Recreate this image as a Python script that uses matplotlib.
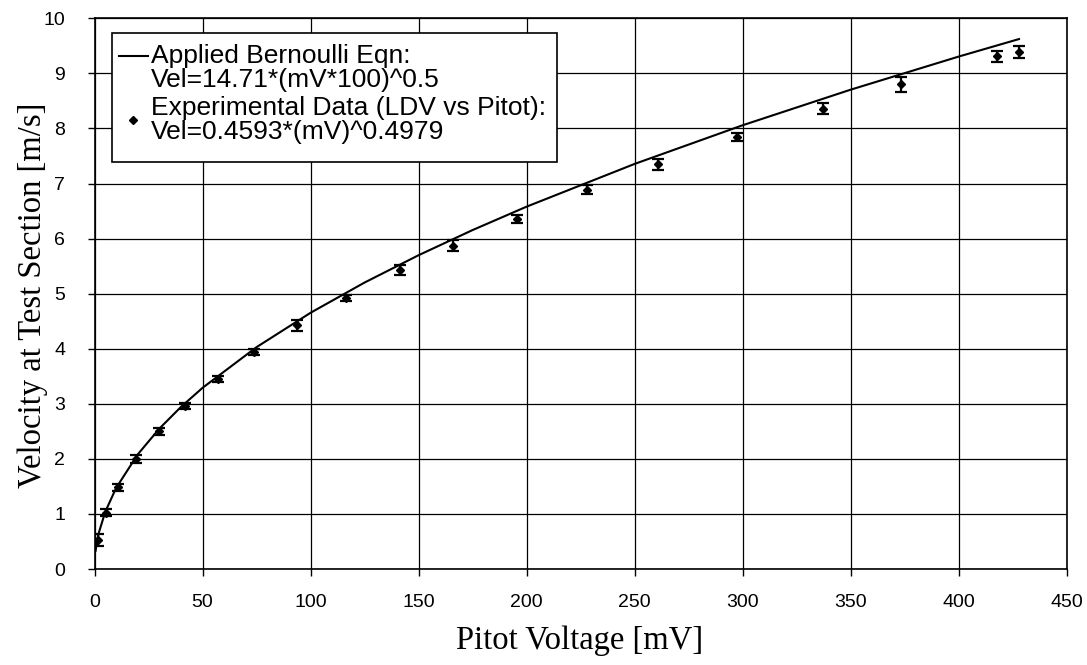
import matplotlib
matplotlib.use("Agg")
import matplotlib.pyplot as plt
from matplotlib.lines import Line2D
from matplotlib.patches import Rectangle
from matplotlib.legend_handler import HandlerLine2D

# Bernoulli curve
curve_mv = [0.5, 1, 2, 5, 10, 20, 30, 40, 50, 75, 100, 125, 150, 175, 200,
            250, 300, 350, 400, 428]
curve_vel = [0.33, 0.465, 0.658, 1.040, 1.471, 2.080, 2.548, 2.942, 3.289,
             4.028, 4.652, 5.201, 5.697, 6.154, 6.579, 7.355, 8.057, 8.703,
             9.304, 9.623]

# Experimental data (LDV vs Pitot)
exp_mv = [1.8, 5.3, 10.7, 19.1, 30.0, 41.9, 57.0, 73.8, 93.6, 116.4, 141.4,
          166.1, 195.5, 227.9, 261.0, 297.3, 337.1, 373.2, 417.7, 428.1]
exp_vel = [0.53, 1.02, 1.48, 2.00, 2.50, 2.96, 3.45, 3.94, 4.43, 4.92, 5.43,
           5.87, 6.36, 6.89, 7.35, 7.84, 8.36, 8.80, 9.31, 9.39]
exp_err = [0.11, 0.065, 0.07, 0.07, 0.06, 0.06, 0.06, 0.06, 0.10, 0.06, 0.09,
           0.10, 0.07, 0.075, 0.10, 0.07, 0.10, 0.13, 0.10, 0.11]

x_ticks = [0, 50, 100, 150, 200, 250, 300, 350, 400, 450]
y_ticks = [0, 1, 2, 3, 4, 5, 6, 7, 8, 9, 10]

label_curve = "Applied Bernoulli Eqn:\nVel=14.71*(mV*100)^0.5"
label_exp = "Experimental Data (LDV vs Pitot):\nVel=0.4593*(mV)^0.4979"


class ShiftedLine(HandlerLine2D):
    """Legend line drawn level with the first text line (as in the source)."""
    def __init__(self, dy, **kw):
        super().__init__(**kw)
        self.dy = dy

    def create_artists(self, legend, orig_handle, xdescent, ydescent, width,
                       height, fontsize, trans):
        arts = super().create_artists(legend, orig_handle, xdescent, ydescent,
                                      width, height, fontsize, trans)
        for a in arts:
            a.set_ydata([y + self.dy for y in a.get_ydata()])
        return arts


fig = plt.figure(figsize=(10.87, 6.65), dpi=100)
ax = fig.add_axes([94.5 / 1087, 1 - 569 / 665, (1066.5 - 94.5) / 1087,
                   (569 - 18.3) / 665])

ax.plot(curve_mv, curve_vel, color="black", lw=1.5, zorder=3)
ax.errorbar(exp_mv, exp_vel, yerr=exp_err, fmt="D", ms=4.5, color="black",
            ecolor="black", elinewidth=1.6, capsize=4.3, capthick=1.6, zorder=4)

ax.set_xlim(0, 450)
ax.set_ylim(0, 10)
ax.set_xticks(x_ticks)
ax.set_yticks(y_ticks)
ax.grid(True, color="black", lw=0.9)
ax.set_axisbelow(True)
for s in ax.spines.values():
    s.set_color("black")
    s.set_linewidth(1.2)
ax.tick_params(direction="out", length=5, width=1, colors="black",
               labelsize=14)
ax.tick_params(axis="x", pad=13)
ax.tick_params(axis="y", pad=16)
for lab in ax.get_xticklabels() + ax.get_yticklabels():
    lab.set_family("Liberation Sans")

fig.text(580 / 1087, 1 - 641 / 665, "Pitot Voltage [mV]",
         family="Liberation Serif", fontsize=23.5, ha="center", va="center")
fig.text(33 / 1087, 1 - 295 / 665, "Velocity at Test Section [m/s]",
         family="Liberation Serif", fontsize=23.5, ha="center", va="center",
         rotation=90)

# legend frame (white box with black border)
ax.add_patch(Rectangle((111.7 / 1087, 1 - 161.7 / 665), 445 / 1087, 128.4 / 665,
                       transform=fig.transFigure, facecolor="white",
                       edgecolor="black", lw=1.2, zorder=4.9, clip_on=False))

handles = [Line2D([], [], color="black", lw=1.5),
           Line2D([], [], ls="none", marker="D", ms=4.5, color="black")]
leg = ax.legend(handles, [label_curve, label_exp], loc="upper left",
                bbox_to_anchor=((108 - 94.5) / 972, 1 - (33.3 - 18.3) / 550.7),
                prop={"family": "Liberation Sans", "size": 19},
                frameon=False, handlelength=1.1, handletextpad=0.12,
                borderaxespad=0, borderpad=0.4, labelspacing=0.12,
                handler_map={handles[0]: ShiftedLine(dy=8.8)})
leg.set_zorder(5)
for t in leg.get_texts():
    t.set_linespacing(1.03)

fig.savefig("out.png", dpi=100)
